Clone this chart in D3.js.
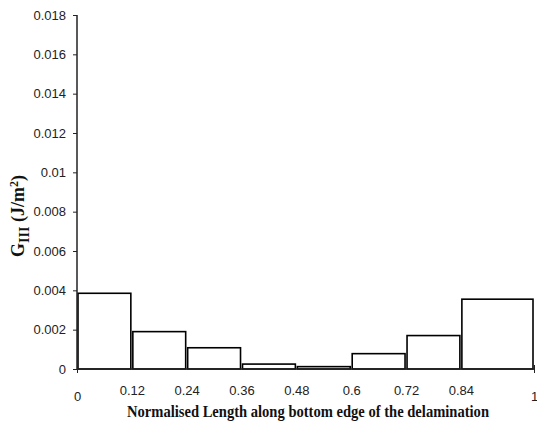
<!DOCTYPE html>
<html>
<head>
<meta charset="utf-8">
<script src="https://cdn.jsdelivr.net/npm/d3@7"></script>
<style>
  body { margin: 0; background: #fff; }
  .tick text { font-family: "Liberation Sans", Arial, sans-serif; font-size: 13px; fill: #222; }
  .title { font-family: "Liberation Serif", "Times New Roman", serif; font-weight: bold; fill: #111; }
</style>
</head>
<body>
<div id="chart"></div>
<script>
// bin edges along the delamination and G_III in each bin
const binStart = [0, 0.12, 0.24, 0.36, 0.48, 0.6, 0.72, 0.84];
const binEnd = [0.12, 0.24, 0.36, 0.48, 0.6, 0.72, 0.84, 1];
const gValues = [0.00385, 0.0019, 0.00108, 0.00025, 0.00012, 0.00078, 0.0017, 0.00355];

const xTicks = [0, 0.12, 0.24, 0.36, 0.48, 0.6, 0.72, 0.84, 1];
const yTicks = [0, 0.002, 0.004, 0.006, 0.008, 0.01, 0.012, 0.014, 0.016, 0.018];

const margin = {top: 15, right: 3, bottom: 59, left: 77};
const width = 537 - margin.left - margin.right;
const height = 428 - margin.top - margin.bottom;

const svg = d3.select("#chart").append("svg")
    .attr("width", 537)
    .attr("height", 428);

const g = svg.append("g")
    .attr("transform", "translate(" + margin.left + "," + margin.top + ")");

const x = d3.scaleLinear().domain([0, 1]).range([0, width]);
const y = d3.scaleLinear().domain([0, 0.018]).range([height, 0]);

// bars
g.selectAll("rect.bar")
    .data(gValues)
    .enter().append("rect")
    .attr("class", "bar")
    .attr("x", (d, i) => x(binStart[i]) + 1)
    .attr("width", (d, i) => x(binEnd[i]) - x(binStart[i]) - 2)
    .attr("y", d => y(d))
    .attr("height", d => height - y(d))
    .style("fill", "#fff")
    .style("stroke", "#000")
    .style("stroke-width", "1.6px");

// y axis
const yAxis = g.append("g")
    .call(d3.axisLeft(y)
        .tickValues(yTicks)
        .tickSize(4)
        .tickPadding(7)
        .tickFormat(d => d === 0 ? "0" : String(+d.toFixed(3))));
yAxis.select(".domain").attr("d", "M0," + height + "V0").style("stroke", "#222").style("stroke-width", "1.5px");
yAxis.selectAll(".tick line").style("stroke", "#222");

// x axis
const xAxis = g.append("g")
    .attr("transform", "translate(0," + height + ")")
    .call(d3.axisBottom(x)
        .tickValues(xTicks)
        .tickSize(0)
        .tickPadding(17)
        .tickFormat(d => String(d)));
xAxis.select(".domain").attr("d", "M0,0H" + width).style("stroke", "#222").style("stroke-width", "1.5px");
xAxis.selectAll(".tick")
    .filter(d => d === 0 || d === 1)
    .each(function() {
        d3.select(this).select("line").attr("y1", -4).attr("y2", 4).style("stroke", "#222");
        d3.select(this).select("text").attr("dy", "1.12em");
    });

// axis titles
svg.append("text")
    .attr("class", "title")
    .attr("x", 308)
    .attr("y", 417)
    .attr("text-anchor", "middle")
    .attr("textLength", 362)
    .attr("lengthAdjust", "spacingAndGlyphs")
    .style("font-size", "16.5px")
    .text("Normalised Length along bottom edge of the delamination");

const yt = svg.append("text")
    .attr("class", "title")
    .attr("transform", "translate(24,216) rotate(-90)")
    .attr("text-anchor", "middle")
    .style("font-size", "18px");
yt.append("tspan").text("G");
yt.append("tspan").attr("dy", 5).style("font-size", "14px").text("III");
yt.append("tspan").attr("dy", -5).text(" (J/m");
yt.append("tspan").attr("dy", -6).style("font-size", "12px").text("2");
yt.append("tspan").attr("dy", 6).text(")");
</script>
</body>
</html>
